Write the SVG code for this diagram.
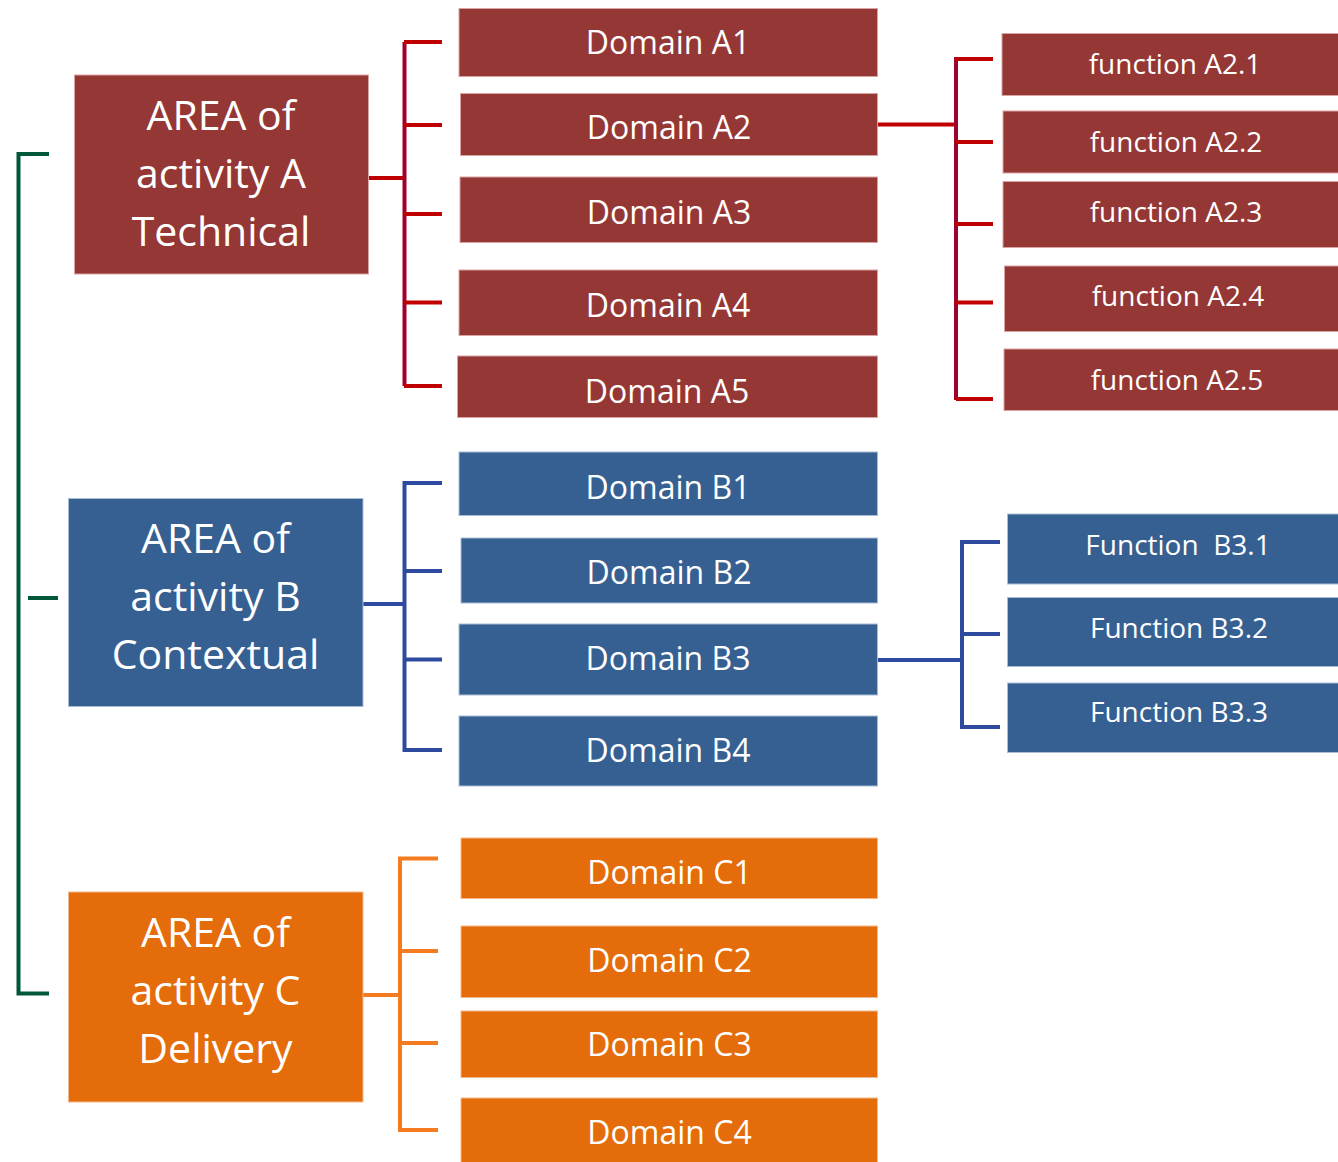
<svg xmlns="http://www.w3.org/2000/svg" width="1338" height="1162" viewBox="0 0 1338 1162">
  <style>
    .a { fill: #953735; stroke: #d9a3a2; stroke-width: 1; }
    .b { fill: #376092; stroke: #a9bcd6; stroke-width: 1; }
    .c { fill: #e46c0a; stroke: #f4b789; stroke-width: 1; }
    text { font-family: "Open Sans", "Liberation Sans", sans-serif; fill: #ffffff; text-anchor: middle; }
    .area { font-size: 41px; }
    .dom { font-size: 32px; }
    .fn { font-size: 28px; white-space: pre; }
    .ln { fill: none; stroke-linecap: butt; stroke-linejoin: miter; }
    .green { stroke: #00573a; stroke-width: 4; }
    .redv { stroke: #a0002c; stroke-width: 4; }
    .redh { stroke: #c00000; stroke-width: 4; }
    .blue { stroke: #2e4a9e; stroke-width: 4; }
    .orange { stroke: #f47b20; stroke-width: 4; }
  </style>

  <!-- connectors -->
  <g id="connectors">
    <!-- root bracket -->
    <path class="ln green" d="M49 154 H18.5 V993.5 H49"/>
    <path class="ln green" d="M28 598 H58"/>

    <!-- area A to domains -->
    <path class="ln redh" d="M368 178 H404"/>
    <path class="ln redv" d="M404.5 42 V386"/>
    <path class="ln redh" d="M404 42 H442 M404 125 H442 M404 214 H442 M404 302.5 H442 M404 386 H442"/>

    <!-- domain A2 to functions -->
    <path class="ln redh" d="M877 124.5 H956"/>
    <path class="ln redv" d="M956 57 V400"/>
    <path class="ln redh" d="M956 59 H993 M956 142 H993 M956 224 H993 M956 302.5 H993 M956 399 H993"/>

    <!-- area B to domains -->
    <path class="ln blue" d="M363 604 H404"/>
    <path class="ln blue" d="M442 483 H404.5 V750 H442"/>
    <path class="ln blue" d="M404 571 H442 M404 659.5 H442"/>

    <!-- domain B3 to functions -->
    <path class="ln blue" d="M877 660 H962"/>
    <path class="ln blue" d="M1000 542 H962 V727 H1000"/>
    <path class="ln blue" d="M962 634 H1000"/>

    <!-- area C to domains -->
    <path class="ln orange" d="M363 995 H400"/>
    <path class="ln orange" d="M438 858.5 H400 V1130 H438"/>
    <path class="ln orange" d="M400 951 H438 M400 1043 H438"/>
  </g>

  <!-- areas of activity -->
  <g id="area-a">
    <rect class="a" x="74.5" y="75" width="294" height="199"/>
    <text class="area" x="221" y="130">AREA of</text>
    <text class="area" x="221" y="188">activity A</text>
    <text class="area" x="221" y="246">Technical</text>
  </g>
  <g id="area-b">
    <rect class="b" x="68.5" y="498.5" width="294.5" height="208"/>
    <text class="area" x="215.5" y="553">AREA of</text>
    <text class="area" x="215.5" y="611">activity B</text>
    <text class="area" x="215.5" y="669">Contextual</text>
  </g>
  <g id="area-c">
    <rect class="c" x="68.5" y="892" width="294.5" height="210"/>
    <text class="area" x="215.5" y="947">AREA of</text>
    <text class="area" x="215.5" y="1004.5">activity C</text>
    <text class="area" x="215.5" y="1062.5">Delivery</text>
  </g>

  <!-- domains A -->
  <g id="domain-a1"><rect class="a" x="459" y="8.5" width="418.5" height="68"/><text class="dom" x="668" y="54">Domain A1</text></g>
  <g id="domain-a2"><rect class="a" x="460.5" y="93.5" width="417" height="62"/><text class="dom" x="669" y="138.5">Domain A2</text></g>
  <g id="domain-a3"><rect class="a" x="460" y="177" width="417.5" height="65.5"/><text class="dom" x="669" y="223.5">Domain A3</text></g>
  <g id="domain-a4"><rect class="a" x="459" y="270" width="418.5" height="65.5"/><text class="dom" x="668" y="316.5">Domain A4</text></g>
  <g id="domain-a5"><rect class="a" x="457.5" y="356" width="420" height="61.5"/><text class="dom" x="667" y="402.5">Domain A5</text></g>

  <!-- functions of domain A2 -->
  <g id="function-a2-1"><rect class="a" x="1002" y="33.5" width="340" height="62"/><text class="fn" x="1175" y="74">function A2.1</text></g>
  <g id="function-a2-2"><rect class="a" x="1003" y="111" width="340" height="62"/><text class="fn" x="1176" y="152">function A2.2</text></g>
  <g id="function-a2-3"><rect class="a" x="1003" y="181.5" width="340" height="66"/><text class="fn" x="1176" y="222">function A2.3</text></g>
  <g id="function-a2-4"><rect class="a" x="1004.5" y="266" width="340" height="65.5"/><text class="fn" x="1178" y="306">function A2.4</text></g>
  <g id="function-a2-5"><rect class="a" x="1004" y="349" width="340" height="61.5"/><text class="fn" x="1177" y="390">function A2.5</text></g>

  <!-- domains B -->
  <g id="domain-b1"><rect class="b" x="459" y="452" width="418.5" height="63.5"/><text class="dom" x="668" y="498.5">Domain B1</text></g>
  <g id="domain-b2"><rect class="b" x="461" y="538" width="416.5" height="65"/><text class="dom" x="669" y="583.5">Domain B2</text></g>
  <g id="domain-b3"><rect class="b" x="459" y="624" width="418.5" height="71"/><text class="dom" x="668" y="669.5">Domain B3</text></g>
  <g id="domain-b4"><rect class="b" x="459" y="716" width="418.5" height="70"/><text class="dom" x="668" y="762">Domain B4</text></g>

  <!-- functions of domain B3 -->
  <g id="function-b3-1"><rect class="b" x="1007.5" y="514" width="340" height="70"/><text class="fn" x="1178" y="555">Function  B3.1</text></g>
  <g id="function-b3-2"><rect class="b" x="1007.5" y="597.5" width="340" height="69"/><text class="fn" x="1179" y="638">Function B3.2</text></g>
  <g id="function-b3-3"><rect class="b" x="1007.5" y="683" width="340" height="69.5"/><text class="fn" x="1179" y="722">Function B3.3</text></g>

  <!-- domains C -->
  <g id="domain-c1"><rect class="c" x="461" y="838" width="416.5" height="60.5"/><text class="dom" x="669.5" y="883.5">Domain C1</text></g>
  <g id="domain-c2"><rect class="c" x="461" y="926" width="416.5" height="71.5"/><text class="dom" x="669.5" y="972">Domain C2</text></g>
  <g id="domain-c3"><rect class="c" x="461" y="1011" width="416.5" height="66.5"/><text class="dom" x="669.5" y="1056">Domain C3</text></g>
  <g id="domain-c4"><rect class="c" x="461" y="1098" width="416.5" height="70"/><text class="dom" x="669.5" y="1143.5">Domain C4</text></g>
</svg>
